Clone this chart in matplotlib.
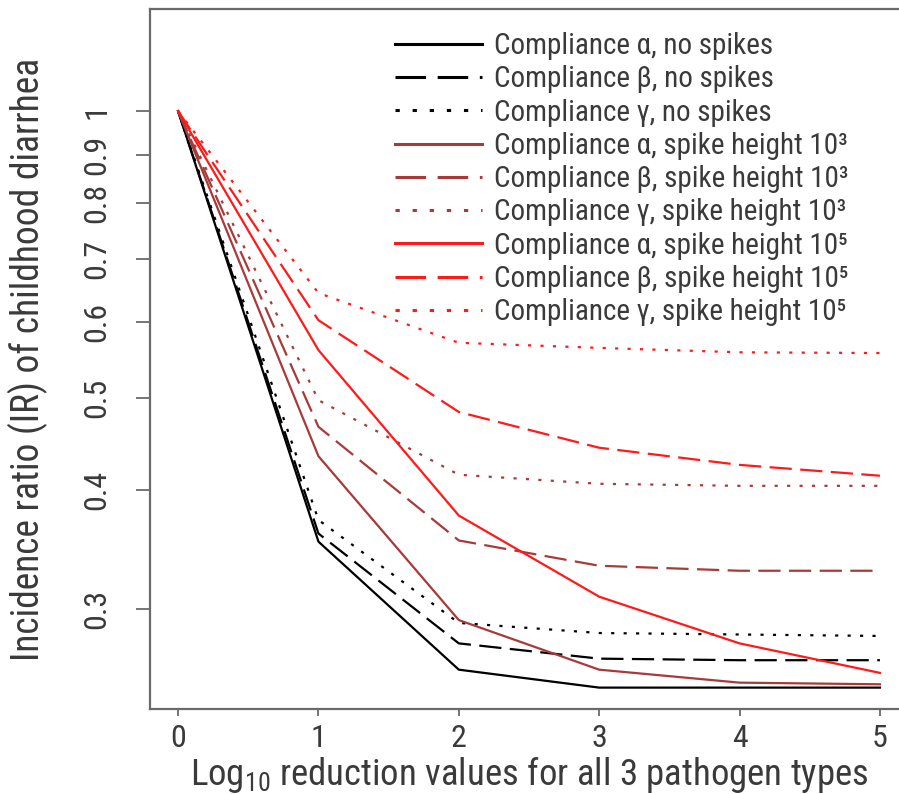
import matplotlib
matplotlib.use("Agg")
import matplotlib.pyplot as plt

x = [0, 1, 2, 3, 4, 5]

# incidence ratios
alpha_none = [1.0, 0.353, 0.259, 0.248, 0.248, 0.248]
beta_none = [1.0, 0.360, 0.276, 0.266, 0.265, 0.265]
gamma_none = [1.0, 0.372, 0.290, 0.283, 0.282, 0.281]
alpha_1e3 = [1.0, 0.434, 0.292, 0.259, 0.251, 0.250]
beta_1e3 = [1.0, 0.466, 0.354, 0.333, 0.329, 0.329]
gamma_1e3 = [1.0, 0.497, 0.415, 0.406, 0.404, 0.404]
alpha_1e5 = [1.0, 0.561, 0.376, 0.309, 0.276, 0.257]
beta_1e5 = [1.0, 0.603, 0.483, 0.443, 0.425, 0.414]
gamma_1e5 = [1.0, 0.644, 0.571, 0.564, 0.558, 0.557]

labels = [
    "Compliance α, no spikes",
    "Compliance β, no spikes",
    "Compliance γ, no spikes",
    "Compliance α, spike height 10³",
    "Compliance β, spike height 10³",
    "Compliance γ, spike height 10³",
    "Compliance α, spike height 10⁵",
    "Compliance β, spike height 10⁵",
    "Compliance γ, spike height 10⁵",
]
series = [alpha_none, beta_none, gamma_none, alpha_1e3, beta_1e3, gamma_1e3,
          alpha_1e5, beta_1e5, gamma_1e5]
colors = ["black"] * 3 + ["#a83a3a"] * 3 + ["#ff1a1a"] * 3
styles = [None, (10, 3.8), (1.4, 4.2)] * 3

yticks = [0.3, 0.4, 0.5, 0.6, 0.7, 0.8, 0.9, 1]
ytick_labels = ["0.3", "0.4", "0.5", "0.6", "0.7", "0.8", "0.9", "1"]

plt.rcParams["font.family"] = ["Roboto Condensed", "DejaVu Sans"]
plt.rcParams["mathtext.fontset"] = "custom"
plt.rcParams["mathtext.rm"] = "Roboto Condensed"
plt.rcParams["mathtext.it"] = "Roboto Condensed"
text_col = "#3a3a3a"
axis_col = "#6a6a6a"

fig = plt.figure(figsize=(8.99, 7.94), dpi=100)
ax = fig.add_axes([150 / 899, 1 - 709 / 794, 758 / 899, 700 / 794])

for ys, c, d, lab in zip(series, colors, styles, labels):
    (ln,) = ax.plot(x, ys, color=c, lw=1.6, label=lab)
    if d is not None:
        ln.set_dashes(d)

ax.set_yscale("log")
ax.set_xlim(-0.2, 5.2)
ax.set_ylim(0.2355, 1.28)
ax.set_yticks(yticks)
ax.set_yticklabels(ytick_labels, rotation=90, va="center")
ax.minorticks_off()
ax.set_xticks(x)

for s in ax.spines.values():
    s.set_color(axis_col)
    s.set_linewidth(1.6)
ax.tick_params(axis="y", length=10, width=1.3, color=axis_col, pad=18,
               labelsize=23, labelcolor=text_col)
ax.tick_params(axis="x", length=5, width=1.3, color=axis_col, pad=6,
               labelsize=23, labelcolor=text_col)

ax.set_xlabel(r"Log$_{10}$ reduction values for all 3 pathogen types",
              fontsize=26.5, color=text_col, labelpad=1)
ax.set_ylabel("Incidence ratio (IR) of childhood diarrhea",
              fontsize=27, color=text_col)
ax.yaxis.set_label_coords(-0.134, 0.5)

leg = ax.legend(loc="upper left", bbox_to_anchor=(0.3232, 0.967),
                frameon=False, fontsize=21, handlelength=3.0,
                handletextpad=0.38, labelspacing=0.18, borderaxespad=0,
                borderpad=0)
for t in leg.get_texts():
    t.set_color(text_col)
for h in leg.get_lines():
    h.set_linewidth(2.2)

fig.savefig("out.png", dpi=100)
